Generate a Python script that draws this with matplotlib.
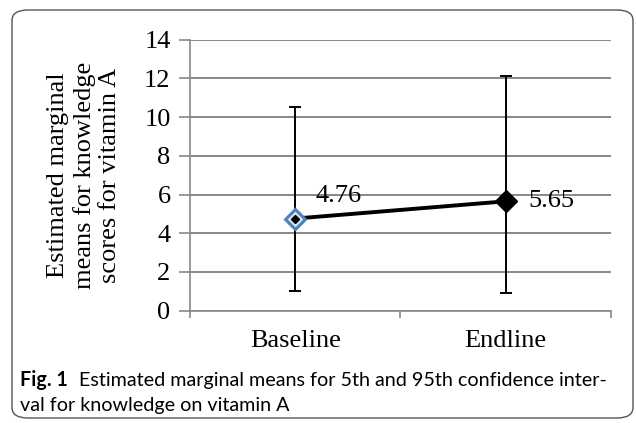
import matplotlib
matplotlib.use("Agg")
import matplotlib.pyplot as plt
from matplotlib.patches import FancyBboxPatch

# data
groups = ["Baseline", "Endline"]
means = [4.76, 5.65]
lower = [1.0, 0.9]
upper = [10.5, 12.15]
yticks = [0, 2, 4, 6, 8, 10, 12, 14]

serif = "Liberation Serif"
grid_col = "#888888"
fs = 19

fig = plt.figure(figsize=(6.36, 4.23), dpi=100)

# rounded frame around chart + caption
frame = FancyBboxPatch((12 / 636, 5 / 423), 621 / 636, 408 / 423,
                       boxstyle="round,pad=0,rounding_size=0.025",
                       transform=fig.transFigure, facecolor="none",
                       edgecolor="#555555", linewidth=1.0)
fig.patches.append(frame)

ax = fig.add_axes([190 / 636, 1 - 310.7 / 423, 420.7 / 636, 271 / 423])

xs = [0.5, 1.5]
yerr = [[m - l for m, l in zip(means, lower)], [u - m for m, u in zip(means, upper)]]
ax.errorbar(xs, means, yerr=yerr, fmt="none", ecolor="black", elinewidth=1.4,
            capsize=4, capthick=1.4, zorder=3)
ax.plot(xs, means, color="black", linewidth=2.8, zorder=4)
# baseline marker: blue outlined diamond with dark center
ax.plot(xs[0], means[0], marker="D", markersize=10, markerfacecolor="#dbe5f1",
        markeredgecolor="#4f81bd", markeredgewidth=2.2, zorder=5)
ax.plot(xs[0], means[0], marker="D", markersize=4, color="black", zorder=6)
ax.plot(xs[1], means[1], marker="D", markersize=11, color="black", zorder=5)

ax.text(xs[0] + 0.095, means[0] + 1.15, f"{means[0]:.2f}", fontsize=fs,
        family=serif, ha="left", va="center")
ax.text(xs[1] + 0.11, means[1], f"{means[1]:.2f}", fontsize=fs,
        family=serif, ha="left", va="center")

ax.set_xlim(0, 2)
ax.set_ylim(0, 14)
ax.set_yticks(yticks)
ax.set_yticklabels([str(t) for t in yticks], family=serif, fontsize=fs)
ax.set_xticks(xs)
ax.set_xticklabels(groups, family=serif, fontsize=fs)
ax.tick_params(axis="x", length=0, pad=14)
ax.set_xticks([0, 1, 2], minor=True)
ax.tick_params(axis="x", which="minor", length=5, color=grid_col, width=1.2)
ax.tick_params(axis="y", length=8, color=grid_col, width=1.2, pad=6)
ax.grid(axis="y", color=grid_col, linewidth=1.4)
ax.set_axisbelow(True)
for side in ["top", "right"]:
    ax.spines[side].set_visible(False)
for side in ["left", "bottom"]:
    ax.spines[side].set_color(grid_col)
    ax.spines[side].set_linewidth(1.2)

ax.set_ylabel("Estimated marginal\nmeans for knowledge\nscores for vitamin A",
              family=serif, fontsize=fs, linespacing=1.2, va="center")
ax.yaxis.set_label_coords((84 - 190) / 420.7, 0.5)

# caption: bold "Fig. 1" followed by regular text
cap_font = "Lato"
cap_fs = 14.2
r = fig.canvas.get_renderer()
t1 = fig.text(20 / 636, 1 - 380 / 423, "Fig. 1", fontsize=cap_fs, weight="bold",
              family=cap_font, va="center")
bb = t1.get_window_extent(renderer=r)
fig.text((bb.x1 + 11) / 636, 1 - 380 / 423,
         "Estimated marginal means for 5th and 95th confidence inter-",
         fontsize=cap_fs, family=cap_font, va="center")
fig.text(20 / 636, 1 - 405 / 423, "val for knowledge on vitamin A",
         fontsize=cap_fs, family=cap_font, va="center")

fig.savefig("out.png", dpi=100)
